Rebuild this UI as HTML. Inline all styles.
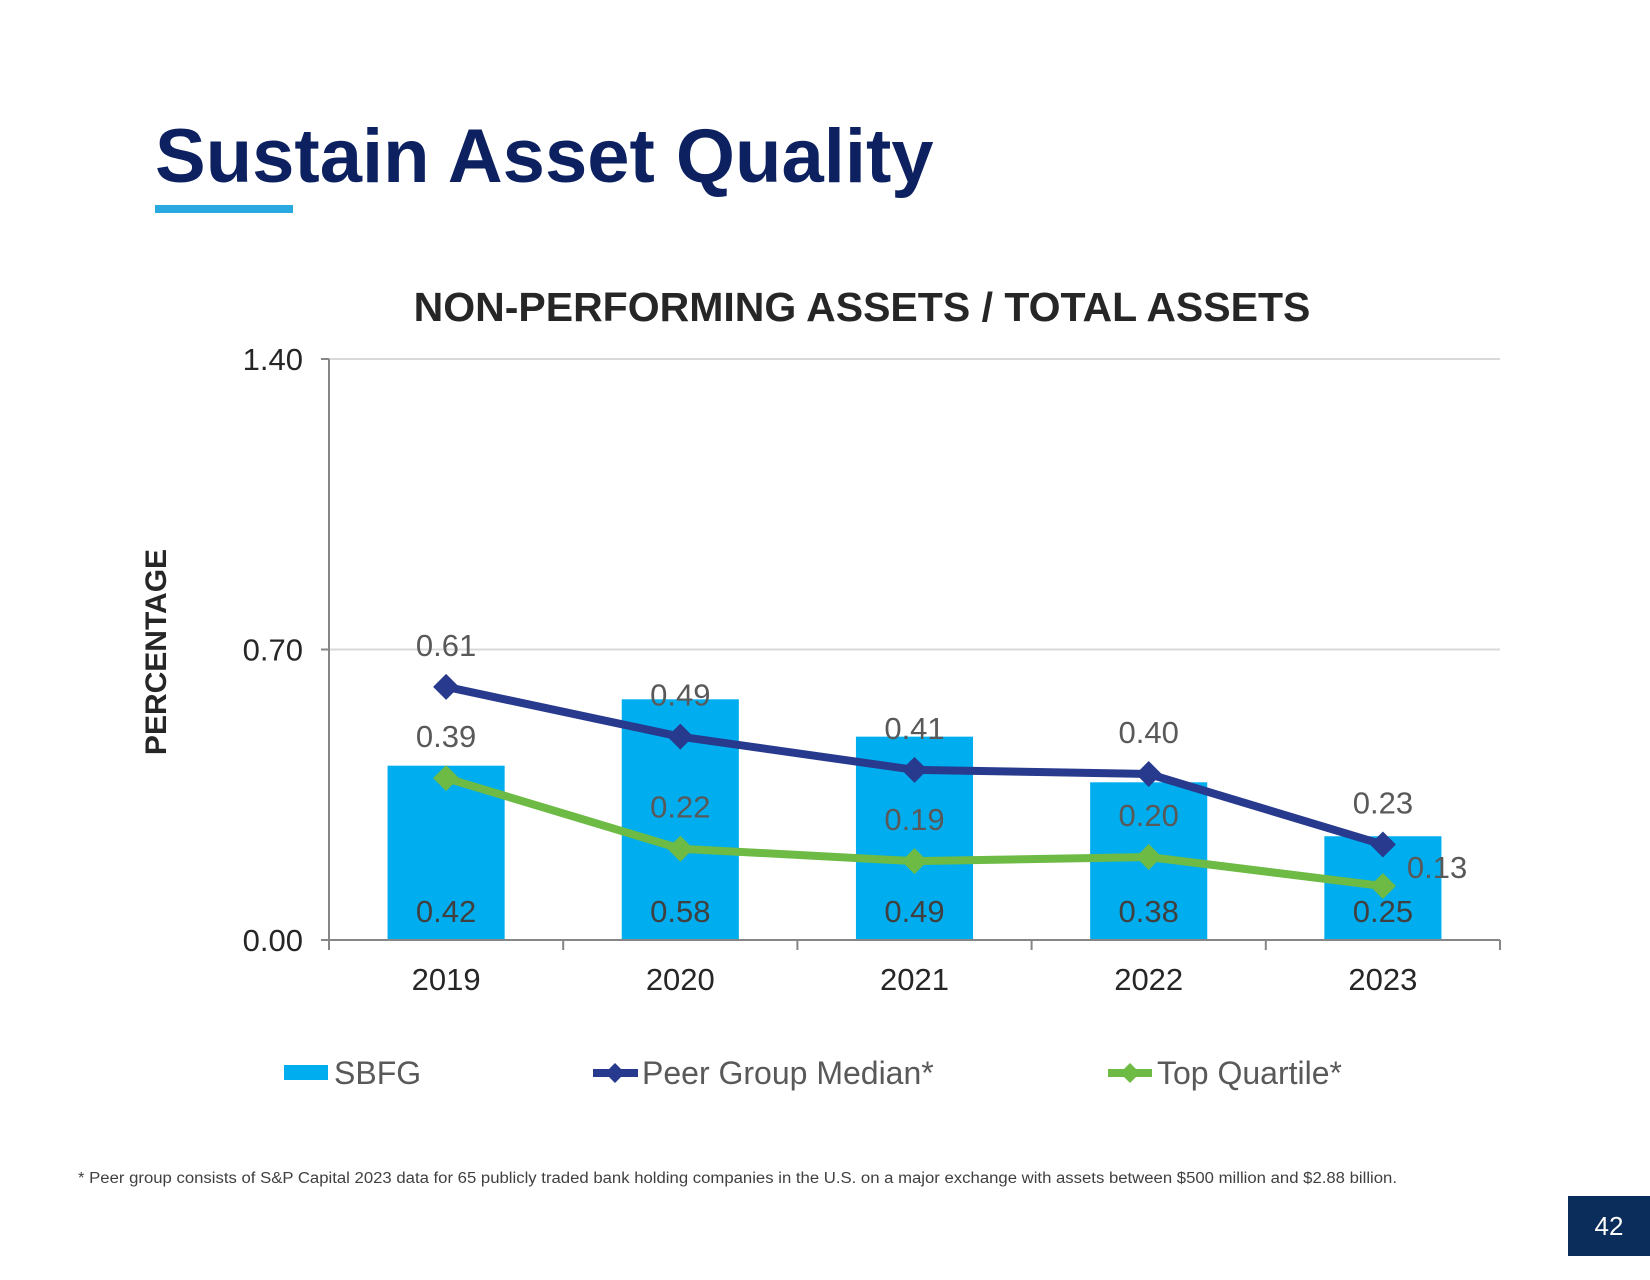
<!DOCTYPE html>
<html><head><meta charset="utf-8"><style>
body{margin:0;background:#fff;}
svg text{font-family:"Liberation Sans",Arial,sans-serif;}
</style></head><body>
<svg id="c" width="1650" height="1275" viewBox="0 0 1650 1275" xmlns="http://www.w3.org/2000/svg">
<text x="155" y="182" font-size="76" font-weight="bold" fill="#0d2161">Sustain Asset Quality</text>
<rect x="155" y="205" width="138" height="8" fill="#29a9e0"/>
<text x="862" y="321" font-size="41" font-weight="bold" fill="#262626" text-anchor="middle">NON-PERFORMING ASSETS / TOTAL ASSETS</text>
<text transform="translate(166,652) rotate(-90)" font-size="30" font-weight="bold" fill="#262626" text-anchor="middle">PERCENTAGE</text>
<g id="plot"></g>
<g>
<rect x="284" y="1065" width="44" height="15" fill="#00adef"/>
<text x="334" y="1084" font-size="32" fill="#595959">SBFG</text>
<line x1="593" y1="1073" x2="638" y2="1073" stroke="#283a8e" stroke-width="8"/>
<path d="M615 1063 L625 1073 L615 1083 L605 1073Z" fill="#283a8e"/>
<text x="642" y="1084" font-size="32" fill="#595959">Peer Group Median*</text>
<line x1="1108" y1="1073" x2="1152" y2="1073" stroke="#6dbb45" stroke-width="8"/>
<path d="M1130 1063 L1140 1073 L1130 1083 L1120 1073Z" fill="#6dbb45"/>
<text x="1157" y="1084" font-size="32" fill="#595959">Top Quartile*</text>
</g>
<text x="78" y="1183" font-size="15.5" fill="#404040" textLength="1319" lengthAdjust="spacingAndGlyphs">* Peer group consists of S&amp;P Capital 2023 data for 65 publicly traded bank holding companies in the U.S. on a major exchange with assets between $500 million and $2.88 billion.</text>
<rect x="1568" y="1196" width="82" height="60" fill="#0b2d5c"/>
<text x="1609" y="1235" font-size="26" fill="#fff" text-anchor="middle">42</text>
</svg>
<script>
const categories=["2019","2020","2021","2022","2023"];
const sbfg=[0.42,0.58,0.49,0.38,0.25];
const peer=[0.61,0.49,0.41,0.40,0.23];
const topQ=[0.39,0.22,0.19,0.20,0.13];
const yTicks=[0,0.70,1.40];
const yTickLabels=["0.00","0.70","1.40"];

const NS="http://www.w3.org/2000/svg";
const X0=329,X1=1500,Y0=940,Y1=359,YMAX=1.4;
const slot=(X1-X0)/categories.length;
const xc=i=>X0+slot*(i+0.5);
const y=v=>Y0-(v/YMAX)*(Y0-Y1);
const g=document.getElementById('plot');
function mk(t,a){const e=document.createElementNS(NS,t);for(const k in a)e.setAttribute(k,a[k]);g.appendChild(e);return e;}
function txt(x,yy,s,size,fill,anchor){const e=mk('text',{x:x,y:yy,'font-size':size,fill:fill,'text-anchor':anchor||'middle'});e.textContent=s;return e;}

yTicks.forEach((t,i)=>{
  if(t>0){const l=mk('line',{x1:X0,x2:X1,y1:y(t),y2:y(t),stroke:'#d9d9d9','stroke-width':2});
  
  }
  const tk=mk('line',{x1:X0-8,x2:X0,y1:y(t),y2:y(t),stroke:'#868686','stroke-width':2});
  
  
  const lb=txt(X0-26,y(t)+11,yTickLabels[i],31,'#262626','end');
  
  
});
const ya=mk('line',{x1:X0,x2:X0,y1:Y1,y2:Y0,stroke:'#868686','stroke-width':2});



const bw=slot*0.5;
sbfg.forEach((v,i)=>{
  const r=mk('rect',{x:xc(i)-bw/2,y:y(v),width:bw,height:Y0-y(v),fill:'#00adef'});
  
  
});
const xa=mk('line',{x1:X0,x2:X1,y1:Y0,y2:Y0,stroke:'#868686','stroke-width':2});


for(let i=0;i<=categories.length;i++){
  const t=mk('line',{x1:X0+slot*i,x2:X0+slot*i,y1:Y0,y2:Y0+10,stroke:'#868686','stroke-width':2});
  
  
}
categories.forEach((c,i)=>{
  const l=txt(xc(i),Y0+50,c,31,'#262626');
  
  
});

function series(vals,color,name){
  const p=mk('polyline',{points:vals.map((v,i)=>xc(i)+','+y(v)).join(' '),fill:'none',stroke:color,'stroke-width':8,'stroke-linejoin':'round'});
  
  
  vals.forEach((v,i)=>{
    const cx=xc(i),cy=y(v);
    const m=mk('path',{d:`M${cx} ${cy-13} L${cx+13} ${cy} L${cx} ${cy+13} L${cx-13} ${cy}Z`,fill:color});
    
    
  });
}
series(peer,'#283a8e','peer-median');
series(topQ,'#6dbb45','top-quartile');

sbfg.forEach((v,i)=>{
  const l=txt(xc(i),Y0-18,v.toFixed(2),31,'#404040');
  
  
});
peer.forEach((v,i)=>{
  const l=txt(xc(i),y(v)-31,v.toFixed(2),31,'#595959');
  
  
});
topQ.forEach((v,i)=>{
  const last=i===topQ.length-1;
  const l=last?txt(xc(i)+24,y(v)-8,v.toFixed(2),31,'#595959','start'):txt(xc(i),y(v)-31,v.toFixed(2),31,'#595959');
  
  
});
</script>
</body></html>
